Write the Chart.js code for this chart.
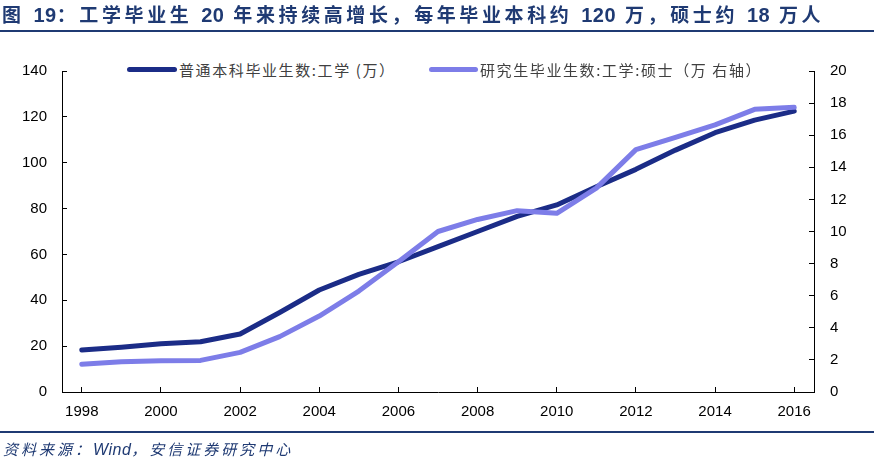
<!DOCTYPE html>
<html>
<head>
<meta charset="utf-8">
<script src="https://cdn.jsdelivr.net/npm/chart.js@4.4.1/dist/chart.umd.min.js"></script>
<style>
  body { margin: 0; width: 874px; height: 461px; position: relative; background: #fff; overflow: hidden; }
  #title { position: absolute; left: 2px; top: 0px; font: bold 19px "Liberation Sans", "Noto Sans CJK SC", sans-serif; color: #1f3a73; letter-spacing: 3.6px; white-space: nowrap; z-index: 2; }
  #title b { letter-spacing: 0.5px; font-size: 20px; }
  .rule { position: absolute; left: 0; width: 874px; height: 2px; background: #1f3a73; z-index: 2; }
  #source { position: absolute; left: 3px; top: 438px; font: italic 15px "Noto Sans CJK SC", sans-serif; color: #1f3a73; letter-spacing: 3px; white-space: nowrap; z-index: 2; }
  #source i { letter-spacing: 0.5px; font-family: "Liberation Sans", sans-serif; font-size: 16px; }
  #chartBox { position: absolute; left: 0; top: 0; width: 874px; height: 461px; z-index: 1; }
  .lg { position: absolute; top: 59px; display: flex; align-items: center; font: 15px "Noto Sans CJK SC", sans-serif; color: #404040; letter-spacing: 1.6px; white-space: nowrap; z-index: 3; background: #fff; }
  .lg span.sw { display: inline-block; height: 5px; border-radius: 3px; margin-right: 2px; }
</style>
</head>
<body>
<div id="title">图 <b>19</b>：工学毕业生 <b>20</b> 年来持续高增长，每年毕业本科约 <b>120</b> 万，硕士约 <b>18</b> 万人</div>
<div class="rule" style="top:30px"></div>
<div id="chartBox"><canvas id="chart" width="874" height="461"></canvas></div>
<div class="rule" style="top:431px"></div>
<div id="source">资料来源：<i>Wind</i>，安信证券研究中心</div>
<script>
const years = ['1998','1999','2000','2001','2002','2003','2004','2005','2006','2007',
               '2008','2009','2010','2011','2012','2013','2014','2015','2016'];
// 普通本科毕业生数:工学 (万), left axis
const bachelor = [18.3, 19.5, 21.0, 21.9, 25.3, 34.7, 44.5, 51.3, 56.8, 63.4,
                  70.0, 76.6, 81.6, 89.5, 97.1, 105.5, 113.1, 118.6, 122.5];
// 研究生毕业生数:工学:硕士 (万), right axis
const master = [1.73, 1.89, 1.95, 1.97, 2.47, 3.45, 4.73, 6.29, 8.12, 10.0,
                10.75, 11.3, 11.13, 12.7, 15.1, 15.87, 16.64, 17.61, 17.74];
const leftTicks = [0, 140, 20];
const rightTicks = [0, 20, 2];
const seriesNames = ['普通本科毕业生数:工学 (万）', '研究生毕业生数:工学:硕士（万 右轴）'];
const seriesColors = ['#1b2c87', '#7d7de8'];

const tickFont = { family: '"Liberation Sans", Arial, sans-serif', size: 15 };

const chart = new Chart(document.getElementById('chart'), {
  type: 'line',
  data: {
    labels: years,
    datasets: [{
      label: seriesNames[0],
      data: bachelor,
      yAxisID: 'y',
      borderColor: seriesColors[0],
      backgroundColor: seriesColors[0],
      borderWidth: 5,
      pointRadius: 0,
      borderCapStyle: 'round',
      borderJoinStyle: 'round',
      order: 1
    }, {
      label: seriesNames[1],
      data: master,
      yAxisID: 'y1',
      borderColor: seriesColors[1],
      backgroundColor: seriesColors[1],
      borderWidth: 5,
      pointRadius: 0,
      borderCapStyle: 'round',
      borderJoinStyle: 'round',
      order: 0
    }]
  },
  options: {
    responsive: false,
    animation: false,
    layout: { padding: { top: 71, bottom: 29, left: 0, right: 0 } },
    plugins: { legend: { display: false }, tooltip: { enabled: false } },
    scales: {
      x: {
        type: 'category',
        offset: true,
        afterFit: s => { s.height = 40; },
        border: { display: true, color: '#000', width: 1 },
        grid: {
          drawOnChartArea: false,
          drawTicks: true,
          tickLength: -5,
          tickColor: ctx => ctx.index % 2 === 0 ? '#000' : 'rgba(0,0,0,0)'
        },
        ticks: {
          autoSkip: false,
          maxRotation: 0,
          padding: 16,
          color: '#000',
          font: tickFont,
          callback: function (v, i) { return i % 2 === 0 ? this.getLabelForValue(v) : ''; }
        }
      },
      y: {
        position: 'left',
        min: leftTicks[0], max: leftTicks[1],
        afterFit: s => { s.width = 62; },
        border: { display: true, color: '#000', width: 1 },
        grid: { drawOnChartArea: false, drawTicks: true, tickLength: -5, tickColor: '#000' },
        ticks: { stepSize: leftTicks[2], padding: 20, color: '#000', font: tickFont }
      },
      y1: {
        position: 'right',
        min: rightTicks[0], max: rightTicks[1],
        afterFit: s => { s.width = 60; },
        border: { display: true, color: '#000', width: 1 },
        grid: { drawOnChartArea: false, drawTicks: true, tickLength: -5, tickColor: '#000' },
        ticks: { stepSize: rightTicks[2], padding: 21, color: '#000', font: tickFont }
      }
    }
  }
});

// legend drawn over the plot top, as in the original
const legendLeft = [127, 429];
const swatchWidth = [50, 49];
chart.data.datasets.forEach((ds, i) => {
  const item = document.createElement('div');
  item.className = 'lg';
  item.style.left = legendLeft[i] + 'px';
  item.innerHTML = `<span class="sw" style="width:${swatchWidth[i]}px;background:${ds.borderColor}"></span>${ds.label}`;
  document.body.appendChild(item);
});
</script>
</body>
</html>
